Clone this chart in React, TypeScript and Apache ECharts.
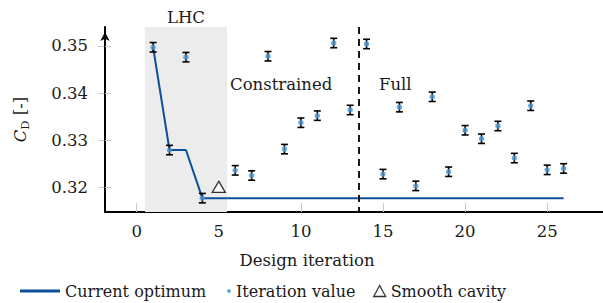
import React, { useEffect, useRef } from "react";
import * as echarts from "echarts";

const iterations = [1, 2, 3, 4, 6, 7, 8, 9, 10, 11, 12, 13, 14, 15, 16, 17, 18, 19, 20, 21, 22, 23, 24, 25, 26];
const iterationValues = [
  0.3497, 0.3279, 0.3476, 0.3177, 0.3236, 0.3225, 0.3478, 0.3281, 0.3337, 0.3352, 0.3506, 0.3364,
  0.3504, 0.3228, 0.337, 0.3203, 0.3392, 0.3233, 0.3321, 0.3303, 0.333, 0.3262, 0.3373, 0.3237, 0.324,
];
const errorHalfWidth = 0.001;
const optimumX = [1, 2, 3, 4, 26];
const optimumY = [0.3497, 0.3279, 0.3279, 0.3177, 0.3177];
const smoothCavity = [[5, 0.3201]];
const xTicks = [0, 5, 10, 15, 20, 25];
const yTicks = [0.32, 0.33, 0.34, 0.35];
const phaseBoundary = 13.5;
const lhcRange = [0.5, 5.5];
const Y_MIN = 0.31476;
const Y_MAX = 0.354;

const FONT = "DejaVu Serif";
const FS = 16.5;
const TXT = "#1a1a1a";

export default function App() {
  const ref = useRef<HTMLDivElement>(null);
  useEffect(() => {
    if (!ref.current) return;
    const chart = echarts.init(ref.current, undefined, { renderer: "svg" });
    const errData = iterations.map((x, i) => [x, iterationValues[i] - errorHalfWidth, iterationValues[i] + errorHalfWidth]);
    const pts = iterations.map((x, i) => [x, iterationValues[i]]);
    const opt = optimumX.map((x, i) => [x, optimumY[i]]);
    const legendText = { fontFamily: FONT, fontSize: 16, color: TXT };
    chart.setOption({
      animation: false,
      textStyle: { fontFamily: FONT },
      grid: { left: 105, right: 0, top: 27, bottom: 91 },
      xAxis: {
        type: "value",
        min: -1.93,
        max: 28.4,
        name: "Design iteration",
        nameLocation: "middle",
        nameGap: 40,
        nameTextStyle: { fontFamily: FONT, fontSize: FS, color: TXT, padding: [0, 94, 0, 0] },
        axisLine: { onZero: false, lineStyle: { color: "#000", width: 2 } },
        axisTick: { show: true, inside: true, length: 9, customValues: xTicks, lineStyle: { color: "#c8c8c8", width: 1 } },
        axisLabel: { customValues: xTicks, margin: 11, fontFamily: FONT, fontSize: FS, color: TXT },
        splitLine: { show: false },
      },
      yAxis: [
        {
          type: "value",
          min: Y_MIN,
          max: Y_MAX,
          name: "{i|C}{s|D} [-]",
          nameLocation: "middle",
          nameGap: 74,
          nameTextStyle: {
            fontFamily: FONT,
            fontSize: FS,
            color: TXT,
            lineHeight: 22,
            rich: {
              i: { fontFamily: FONT, fontSize: FS, fontStyle: "italic", color: TXT, lineHeight: 22 },
              s: { fontFamily: FONT, fontSize: 11.5, color: TXT, lineHeight: 12, verticalAlign: "bottom" },
            },
          },
          axisLine: { onZero: false, symbol: ["none", "arrow"], symbolSize: [7, 9], symbolOffset: [0, -5], lineStyle: { color: "#000", width: 2 } },
          axisTick: { show: true, inside: true, length: 6, customValues: yTicks, lineStyle: { color: "#c8c8c8", width: 1 } },
          axisLabel: { customValues: yTicks, margin: 17, fontFamily: FONT, fontSize: FS, color: TXT, formatter: (v: number) => v.toFixed(2) },
          splitLine: { show: false },
          z: 3,
        },
        {
          type: "value",
          position: "left",
          offset: 0,
          min: Y_MIN,
          max: Y_MAX,
          axisLine: { show: false, onZero: false },
          axisTick: { show: true, inside: false, length: 7, customValues: yTicks, lineStyle: { color: "#c8c8c8", width: 1 } },
          axisLabel: { show: false },
          splitLine: { show: false },
          z: 2,
        },
      ],
      legend: [
        {
          data: [{ name: "Current optimum", icon: "rect" }],
          left: 15,
          top: 278,
          itemWidth: 40,
          itemHeight: 3,
          textStyle: legendText,
          selectedMode: false,
        },
        {
          data: [{ name: "Iteration value", icon: "circle" }],
          left: 222,
          top: 278,
          itemWidth: 4,
          itemHeight: 4,
          textStyle: legendText,
          selectedMode: false,
        },
        {
          data: [{ name: "Smooth cavity", icon: "triangle" }],
          left: 368,
          top: 278,
          itemWidth: 12,
          itemHeight: 11,
          textStyle: legendText,
          selectedMode: false,
          itemStyle: { color: "#fff", borderColor: "#000", borderWidth: 1.3 },
        },
      ],
      series: [
        {
          name: "Current optimum",
          type: "line",
          data: opt,
          symbol: "none",
          lineStyle: { color: "#0d4f9a", width: 2 },
          itemStyle: { color: "#0d4f9a" },
          z: 3,
          markArea: {
            silent: true,
            itemStyle: { color: "#ececec" },
            label: { show: true, position: "top", distance: 1, fontFamily: FONT, fontSize: FS, color: TXT },
            data: [[{ xAxis: lhcRange[0], yAxis: Y_MAX, name: "LHC" }, { xAxis: lhcRange[1], yAxis: Y_MIN }]],
          },
          markLine: {
            silent: true,
            symbol: ["none", "none"],
            label: { show: false },
            lineStyle: { color: "#000", type: [7, 5], width: 1.8 },
            data: [[{ coord: [phaseBoundary, Y_MAX] }, { coord: [phaseBoundary, Y_MIN] }]],
          },
          markPoint: {
            silent: true,
            symbol: "circle",
            symbolSize: 0,
            label: { show: true, position: "inside", fontFamily: FONT, fontSize: FS, color: TXT, formatter: "{b}" },
            data: [
              { name: "Constrained", coord: [8.8, 0.3419] },
              { name: "Full", coord: [15.75, 0.3419] },
            ],
          },
        },
        {
          name: "errors",
          type: "custom",
          data: errData,
          z: 4,
          renderItem: (params: any, api: any) => {
            const x = api.value(0);
            const lo = api.coord([x, api.value(1)]);
            const hi = api.coord([x, api.value(2)]);
            const w = 3.5;
            const st = { stroke: "#000", lineWidth: 1.6 };
            return {
              type: "group",
              children: [
                { type: "line", shape: { x1: lo[0], y1: lo[1], x2: hi[0], y2: hi[1] }, style: st },
                { type: "line", shape: { x1: lo[0] - w, y1: lo[1], x2: lo[0] + w, y2: lo[1] }, style: st },
                { type: "line", shape: { x1: hi[0] - w, y1: hi[1], x2: hi[0] + w, y2: hi[1] }, style: st },
              ],
            };
          },
        },
        {
          name: "Iteration value",
          type: "scatter",
          data: pts,
          symbol: "circle",
          symbolSize: 5.5,
          itemStyle: { color: "#4894d0" },
          z: 5,
        },
        {
          name: "Smooth cavity",
          type: "scatter",
          data: smoothCavity,
          symbol: "triangle",
          symbolSize: [13, 11],
          itemStyle: { color: "#fff", borderColor: "#000", borderWidth: 1.3 },
          z: 5,
        },
      ],
    });
    return () => chart.dispose();
  }, []);
  return <div ref={ref} style={{ width: 603, height: 303, position: "absolute", left: 0, top: 0 }} />;
}
